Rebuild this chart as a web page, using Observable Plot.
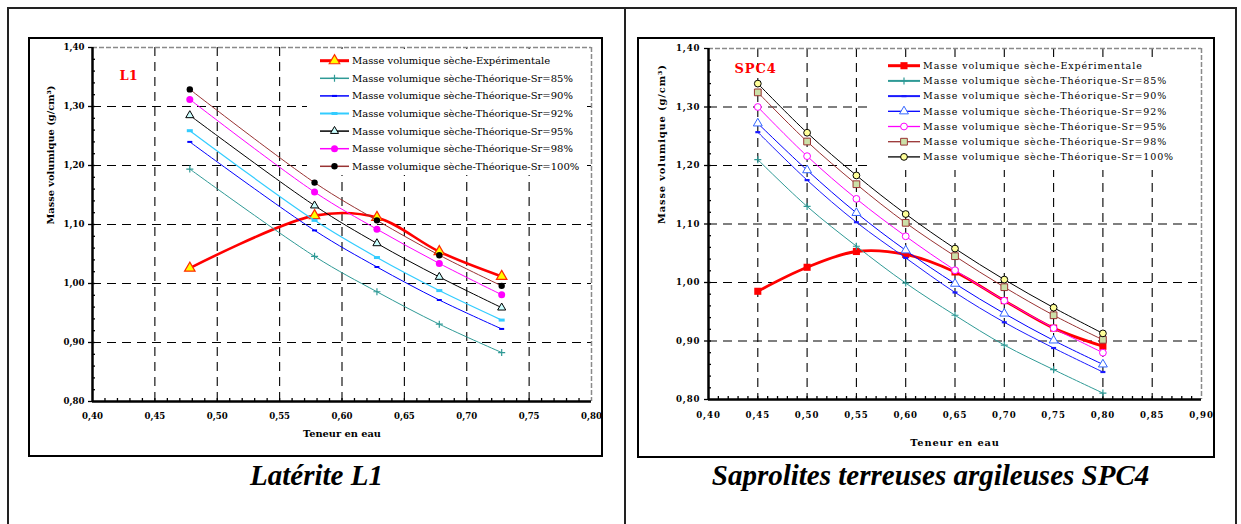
<!DOCTYPE html>
<html><head><meta charset="utf-8">
<script src="https://cdn.jsdelivr.net/npm/d3@7"></script>
<script src="https://cdn.jsdelivr.net/npm/@observablehq/plot@0.6"></script>
<style>
body{margin:0;background:#fff;width:1241px;height:524px;overflow:hidden;position:relative;font-family:"DejaVu Serif",serif;}
.ln{position:absolute;background:#222;}
.box{position:absolute;border:2px solid #000;box-sizing:border-box;pointer-events:none;}
.holder{position:absolute;}
.cap{position:absolute;font-family:"Liberation Serif",serif;font-weight:bold;font-style:italic;font-size:29px;line-height:29px;text-align:center;white-space:nowrap;color:#000;}
</style></head><body>
<div class="ln" style="left:7px;top:7px;width:1230px;height:2px"></div>
<div class="ln" style="left:7px;top:7px;width:2px;height:517px"></div>
<div class="ln" style="left:624px;top:7px;width:2px;height:517px"></div>
<div class="ln" style="left:1235px;top:7px;width:2px;height:517px"></div>
<div class="holder" id="left" style="left:29px;top:38px"></div>
<div class="holder" id="right" style="left:638px;top:38px"></div>
<div class="box" style="left:28px;top:37px;width:575px;height:420px"></div>
<div class="box" style="left:637px;top:37px;width:578px;height:421px"></div>
<div class="cap" style="left:8px;top:461px;width:617px">Latérite L1</div>
<div class="cap" style="left:626px;top:461px;width:609px">Saprolites terreuses argileuses SPC4</div>
<script>
// ---------- Data ----------
const seriesNames = [
  "Masse volumique sèche-Expérimentale",
  "Masse volumique sèche-Théorique-Sr=85%",
  "Masse volumique sèche-Théorique-Sr=90%",
  "Masse volumique sèche-Théorique-Sr=92%",
  "Masse volumique sèche-Théorique-Sr=95%",
  "Masse volumique sèche-Théorique-Sr=98%",
  "Masse volumique sèche-Théorique-Sr=100%"
];
const xTitle = "Teneur en eau";
const yTitle = "Masse volumique (g/cm³)";

// Latérite L1
const l1Water = [0.478, 0.578, 0.628, 0.678, 0.728];
const l1Exp   = [1.026, 1.115, 1.112, 1.054, 1.012];
const l1Sr85  = [1.194, 1.046, 0.986, 0.931, 0.883];
const l1Sr90  = [1.240, 1.090, 1.028, 0.972, 0.923];
const l1Sr92  = [1.259, 1.107, 1.044, 0.988, 0.938];
const l1Sr95  = [1.285, 1.132, 1.068, 1.011, 0.959];
const l1Sr98  = [1.312, 1.155, 1.092, 1.034, 0.981];
const l1Sr100 = [1.329, 1.171, 1.107, 1.048, 0.996];

// Saprolites SPC4
const spcWater = [0.45, 0.50, 0.55, 0.60, 0.65, 0.70, 0.75, 0.80];
const spcExp   = [0.985, 1.026, 1.053, 1.048, 1.018, 0.969, 0.922, 0.891];
const spcSr85  = [1.210, 1.130, 1.062, 0.999, 0.944, 0.893, 0.851, 0.811];
const spcSr90  = [1.257, 1.175, 1.103, 1.042, 0.983, 0.932, 0.888, 0.847];
const spcSr92  = [1.272, 1.192, 1.119, 1.055, 0.998, 0.947, 0.901, 0.860];
const spcSr95  = [1.300, 1.216, 1.143, 1.079, 1.021, 0.969, 0.922, 0.880];
const spcSr98  = [1.325, 1.241, 1.168, 1.102, 1.045, 0.992, 0.944, 0.902];
const spcSr100 = [1.340, 1.256, 1.183, 1.117, 1.058, 1.005, 0.957, 0.913];

// Ticks
const l1XTicks  = [0.40, 0.45, 0.50, 0.55, 0.60, 0.65, 0.70, 0.75, 0.80];
const spcXTicks = [0.40, 0.45, 0.50, 0.55, 0.60, 0.65, 0.70, 0.75, 0.80, 0.85, 0.90];
const yTicks    = [0.80, 0.90, 1.00, 1.10, 1.20, 1.30, 1.40];

// ---------- Styles ----------
const dash = (w, h) => ({draw(ctx) { ctx.rect(-w / 2, -h / 2, w, h); }});
const teal = "#2f9a96";

const l1Styles = [
  {values: l1Exp,   color: "#ff0000", lw: 2.6, legLw: 3, sym: d3.symbolTriangle, r: 3.9, fill: "#ffff00", stroke: "#ff2a00", sw: 1.2},
  {values: l1Sr85,  color: teal,      lw: 1,   legLw: 1.5, sym: d3.symbolPlus, r: 2.4, fill: "none", stroke: teal, sw: 1.2},
  {values: l1Sr90,  color: "#0000ff", lw: 1,   legLw: 1.5, sym: dash(5, 2), r: 3, fill: "#0000ff", stroke: "none", sw: 0},
  {values: l1Sr92,  color: "#33ccff", lw: 1.2, legLw: 2, sym: dash(6, 3), r: 3, fill: "#33ccff", stroke: "none", sw: 0},
  {values: l1Sr95,  color: "#000000", lw: 1,   legLw: 1.5, sym: d3.symbolTriangle, r: 3, fill: "#ccffff", stroke: "#000", sw: 1},
  {values: l1Sr98,  color: "#ff00ff", lw: 1,   legLw: 1.5, sym: d3.symbolCircle, r: 3.5, fill: "#ff00ff", stroke: "none", sw: 0},
  {values: l1Sr100, color: "#993333", lw: 1,   legLw: 1.5, sym: d3.symbolCircle, r: 3.2, fill: "#000000", stroke: "none", sw: 0}
];
const spcStyles = [
  {values: spcExp,   color: "#ff0000", lw: 2.8, legLw: 3, sym: d3.symbolSquare, r: 4, fill: "#ff0000", stroke: "none", sw: 0},
  {values: spcSr85,  color: teal,      lw: 1,   legLw: 2, sym: d3.symbolPlus, r: 2.4, fill: "none", stroke: teal, sw: 1.2},
  {values: spcSr90,  color: "#1a1aff", lw: 1,   legLw: 2, sym: dash(5, 2.2), r: 3, fill: "#1a1aff", stroke: "none", sw: 0},
  {values: spcSr92,  color: "#0000ff", lw: 1,   legLw: 1.3, sym: d3.symbolTriangle, r: 3.3, fill: "#ffffff", stroke: "#3366ff", sw: 1},
  {values: spcSr95,  color: "#ff00ff", lw: 1,   legLw: 1.3, sym: d3.symbolCircle, r: 3.4, fill: "#ffffff", stroke: "#ff00ff", sw: 1},
  {values: spcSr98,  color: "#993333", lw: 1,   legLw: 1.3, sym: d3.symbolSquare, r: 3.8, fill: "#cce0a8", stroke: "#993333", sw: 1},
  {values: spcSr100, color: "#000000", lw: 1,   legLw: 1.3, sym: d3.symbolCircle, r: 3.4, fill: "#ffff99", stroke: "#000000", sw: 1}
];

const fmt = d => d3.format(".2f")(d).replace(".", ",");

function makePanel(o) {
  const [x0, x1] = o.xDomain, y0 = yTicks[0], y1 = yTicks[yTicks.length - 1];
  const minorX = d3.range(Math.round(x0 * 100) + 1, Math.round(x1 * 100)).map(d => d / 100);
  const minorY = d3.range(41, 70).map(d => d / 50);
  const gridXv = o.xTicks.slice(1, -1);
  const gridYv = yTicks.slice(1, -1);
  const txtStyle = {fontWeight: "bold", fontSize: 8.6};
  const marks = [
    Plot.gridX(gridXv, {stroke: "#000", strokeOpacity: 1, strokeWidth: 1.1, strokeDasharray: "9,6"}),
    Plot.gridY(gridYv, {stroke: "#000", strokeOpacity: 1, strokeWidth: 1.1, strokeDasharray: "9,6"}),
    Plot.ruleY([y1], {stroke: "#8a8a8a", strokeWidth: 1.5, strokeDasharray: "5,2"}),
    Plot.ruleX([x1], {stroke: "#8a8a8a", strokeWidth: 1.5, strokeDasharray: "5,2"}),
    Plot.axisY(minorY, {tickSize: 3, dx: 3, tickFormat: () => "", label: null, strokeWidth: 1.3}),
    Plot.axisX(minorX, {tickSize: 3, dy: -3, tickFormat: () => "", label: null, strokeWidth: 1.3}),
    Plot.axisY(yTicks, {tickSize: 4, tickPadding: 4, tickFormat: fmt, label: null, strokeWidth: 1.3, ...txtStyle}),
    Plot.axisX(o.xTicks, {tickSize: 0, tickPadding: o.xPad, tickFormat: fmt, label: null, ...txtStyle}),
    Plot.ruleX([x0], {stroke: "#000", strokeWidth: 2.5}),
    Plot.ruleY([y0], {stroke: "#000", strokeWidth: 2.5})
  ];
  o.styles.forEach(s => {
    const rows = o.water.map((w, i) => ({w, v: s.values[i]}));
    marks.push(Plot.line(rows, {x: "w", y: "v", curve: "catmull-rom", stroke: s.color, strokeWidth: s.lw}));
    marks.push(Plot.dot(rows, {x: "w", y: "v", symbol: s.sym, r: s.r, fill: s.fill, stroke: s.stroke, strokeWidth: s.sw}));
  });
  marks.push(Plot.text([xTitle], {text: d => d, frameAnchor: "bottom", dy: o.xTitleDy, fontWeight: "bold", fontSize: 9.8}));
  marks.push(Plot.text([yTitle], {text: d => d, frameAnchor: "left", rotate: -90, dx: o.yTitleDx, fontWeight: "bold", fontSize: 9.8}));
  marks.push(Plot.text([o.tag], {text: d => d, frameAnchor: "top-left", textAnchor: "start", dx: o.tagDx, dy: o.tagDy, fill: "#ff0000", fontWeight: "bold", fontSize: o.tagSize}));

  const svg = Plot.plot({
    width: o.width, height: o.height,
    marginLeft: o.ml, marginRight: o.mr, marginTop: o.mt, marginBottom: o.mb,
    x: {domain: o.xDomain, label: null},
    y: {domain: [y0, y1], label: null},
    style: {fontFamily: "DejaVu Serif", background: "transparent", overflow: "visible", color: "#000", letterSpacing: o.ls},
    marks
  });

  // Legend
  const L = o.legend;
  const g = d3.select(svg).append("g").attr("text-anchor", "start");
  g.append("rect").attr("x", L.x).attr("y", L.y).attr("width", L.w).attr("height", L.h).attr("fill", "#fff");
  o.styles.forEach((s, i) => {
    const yy = L.y0 + i * L.dy;
    g.append("line").attr("x1", L.lx1).attr("x2", L.lx2).attr("y1", yy).attr("y2", yy)
      .attr("stroke", s.color).attr("stroke-width", s.legLw);
    g.append("path").attr("d", d3.symbol(s.sym, s.r * s.r * Math.PI)())
      .attr("transform", `translate(${(L.lx1 + L.lx2) / 2},${yy})`)
      .attr("fill", s.fill).attr("stroke", s.stroke).attr("stroke-width", s.sw || null);
    g.append("text").attr("x", L.tx).attr("y", yy).attr("dy", "0.35em").attr("text-anchor", "start")
      .attr("font-size", L.fs).attr("fill", "#000").text(seriesNames[i]);
  });
  document.getElementById(o.id).appendChild(svg);
}

makePanel({
  id: "left", width: 573, height: 418, ml: 63, mr: 11, mt: 9, mb: 55,
  xDomain: [0.40, 0.80], xTicks: l1XTicks, water: l1Water, styles: l1Styles,
  xPad: 11, xTitleDy: 35, yTitleDx: -42, tag: "L1", tagDx: 27, tagDy: 23, tagSize: 13, ls: "0px",
  legend: {x: 278, y: 11, w: 280, h: 126, lx1: 291, lx2: 320, tx: 323, y0: 22.7, dy: 17.6, fs: 10}
});
makePanel({
  id: "right", width: 576, height: 419, ml: 70, mr: 13, mt: 10, mb: 58,
  xDomain: [0.40, 0.90], xTicks: spcXTicks, water: spcWater, styles: spcStyles,
  xPad: 12.5, xTitleDy: 46, yTitleDx: -47, tag: "SPC4", tagDx: 26, tagDy: 15, tagSize: 13, ls: "0.9px",
  legend: {x: 229, y: 19, w: 331, h: 113, lx1: 250, lx2: 282, tx: 285, y0: 27.7, dy: 15.2, fs: 9.5}
});
</script>
</body></html>
